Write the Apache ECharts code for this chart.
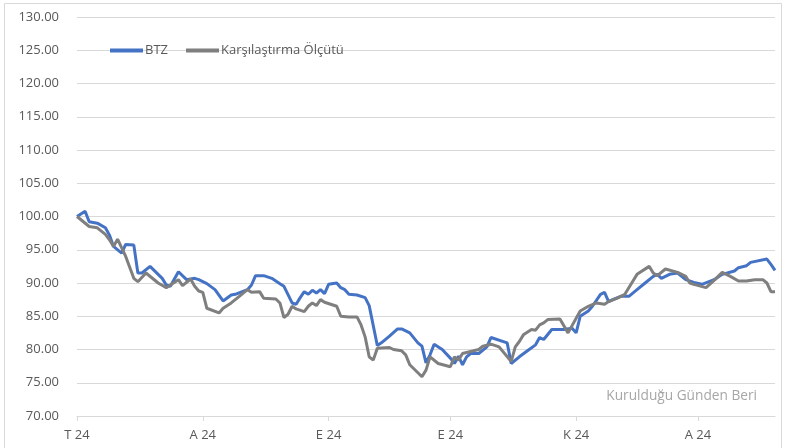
<!DOCTYPE html>
<html>
<head>
<meta charset="utf-8">
<script src="https://cdn.jsdelivr.net/npm/echarts@6/dist/echarts.min.js"></script>
<style>
  html, body { margin: 0; padding: 0; background: #fff; }
  #chart { width: 785px; height: 448px; }
</style>
</head>
<body>
<div id="chart"></div>
<script>
// x values are days counted from 1 July 2024
var btzDays = [0, 2, 3, 5, 7, 8, 9, 11, 12, 14, 15, 16, 18, 21, 22, 23, 25, 27, 29, 30,
  32, 34, 36, 38, 39, 42, 43, 44, 46, 48, 50, 51, 53, 54, 55, 56, 57, 58, 59, 60,
  61, 62, 64, 65, 66, 67, 69, 71, 72, 74, 75, 77, 79, 80, 82, 84, 85, 86, 87, 88,
  90, 92, 93, 94, 95, 96, 97, 99, 101, 102, 106, 107, 109, 111, 113, 114, 115, 117, 120, 122,
  123, 124, 126, 127, 129, 130, 131, 132, 134, 136, 138, 140, 142, 143, 144, 146, 148, 149, 150, 152,
  154, 157, 159, 162, 163, 165, 166, 170, 171, 172];
var btzValues = [100.0, 100.8, 99.2, 99.0, 98.3, 97.2, 95.5, 94.5, 95.8, 95.7, 91.5, 91.5, 92.5, 90.7, 89.7, 89.5, 91.7, 90.5, 90.7, 90.5,
  89.9, 89.0, 87.3, 88.2, 88.3, 89.0, 89.7, 91.1, 91.1, 90.7, 89.9, 89.5, 87.0, 86.8, 87.8, 88.7, 88.3, 88.9, 88.5, 89.0,
  88.4, 89.8, 90.0, 89.3, 89.0, 88.3, 88.2, 87.8, 86.6, 80.6, 81.0, 82.0, 83.1, 83.1, 82.5, 81.0, 80.5, 78.0, 79.2, 80.8,
  80.0, 78.7, 77.9, 79.0, 77.7, 78.9, 79.4, 79.4, 80.4, 81.8, 81.0, 77.9, 78.9, 79.8, 80.7, 81.8, 81.5, 83.0, 83.0, 83.2,
  82.5, 85.0, 85.8, 86.5, 88.3, 88.6, 87.2, 87.5, 88.0, 88.0, 89.0, 90.0, 91.0, 91.3, 90.7, 91.3, 91.5, 91.0, 90.5, 90.1,
  89.8, 90.5, 91.3, 91.8, 92.3, 92.6, 93.1, 93.6, 92.8, 91.9];

var benchDays = [0, 3, 5, 7, 8, 9, 10, 12, 14, 15, 17, 20, 22, 23, 25, 26, 28, 29, 30, 31,
  32, 35, 36, 38, 40, 42, 43, 45, 46, 49, 50, 51, 52, 53, 54, 56, 57, 58, 59, 60,
  61, 64, 65, 67, 69, 70, 71, 72, 73, 74, 77, 78, 80, 81, 82, 85, 86, 87, 89, 92,
  93, 94, 95, 97, 99, 100, 102, 104, 107, 108, 109, 110, 112, 113, 114, 115, 116, 119, 121, 124,
  126, 128, 130, 131, 133, 135, 137, 138, 141, 142, 143, 145, 148, 150, 151, 152, 155, 157, 159, 161,
  163, 165, 167, 169, 170, 171, 172];
var benchValues = [100.0, 98.5, 98.3, 97.3, 96.5, 95.5, 96.6, 94.0, 90.7, 90.2, 91.5, 90.0, 89.3, 89.7, 90.5, 89.6, 90.6, 89.5, 88.8, 88.6,
  86.2, 85.5, 86.2, 87.0, 88.0, 89.0, 88.6, 88.7, 87.7, 87.6, 87.0, 84.8, 85.3, 86.5, 86.1, 85.7, 86.5, 87.0, 86.6, 87.5,
  87.1, 86.5, 85.0, 84.9, 84.9, 83.7, 81.9, 78.9, 78.4, 80.2, 80.3, 80.0, 79.8, 79.2, 77.7, 75.9, 76.9, 78.9, 77.9, 77.4,
  78.9, 78.4, 79.4, 79.7, 80.0, 80.5, 80.8, 80.4, 78.2, 80.4, 81.2, 82.2, 83.0, 82.9, 83.7, 84.0, 84.5, 84.6, 82.5, 85.8,
  86.5, 87.0, 86.8, 87.2, 87.7, 88.3, 90.3, 91.3, 92.5, 91.5, 91.1, 92.1, 91.6, 91.0, 90.0, 89.8, 89.3, 90.4, 91.6, 91.0,
  90.3, 90.3, 90.5, 90.5, 90.0, 88.7, 88.7];

// first day of each month (Jul..Dec 2024) and their labels
var tickDays = [0, 31, 62, 92, 123, 153];
var tickLabels = ['T 24', 'A 24', 'E 24', 'E 24', 'K 24', 'A 24'];
var lastDay = 172;

var seriesNames = ['BTZ', 'Karşılaştırma Ölçütü'];

function toPairs(days, values) {
  return days.map(function (d, i) { return [d, values[i]]; });
}

var textColor = '#595959';
var gridColor = '#d9d9d9';
var font = 'Open Sans';

var chart = echarts.init(document.getElementById('chart'));

var option = {
  animation: false,
  backgroundColor: '#fff',
  grid: { left: 77, right: 10, top: 17, bottom: 32, containLabel: false },
  legend: {
    left: 105,
    top: 39,
    icon: 'rect',
    itemWidth: 33,
    itemHeight: 4,
    itemGap: 18,
    textStyle: { color: textColor, fontSize: 13, fontFamily: font, padding: [0, 0, 0, -3] },
    data: seriesNames
  },
  xAxis: {
    type: 'value',
    min: 0,
    max: lastDay,
    axisLine: { show: true, lineStyle: { color: gridColor, width: 1 } },
    axisTick: { show: true, length: 5, lineStyle: { color: gridColor }, customValues: tickDays },
    axisLabel: {
      customValues: tickDays,
      color: textColor, fontSize: 13, fontFamily: font, margin: 13,
      formatter: function (v) {
        var i = tickDays.indexOf(v);
        return i >= 0 ? tickLabels[i] : '';
      }
    },
    splitLine: { show: false }
  },
  yAxis: {
    type: 'value',
    min: 70,
    max: 130,
    interval: 5,
    axisLine: { show: false },
    axisTick: { show: false },
    axisLabel: {
      color: textColor, fontSize: 13, fontFamily: font, margin: 18,
      formatter: function (v) { return v.toFixed(2); }
    },
    splitLine: { lineStyle: { color: gridColor, width: 1 } }
  },
  graphic: [
    {
      type: 'rect',
      shape: { x: 4.5, y: 3.5, width: 777, height: 460 },
      style: { fill: 'none', stroke: gridColor, lineWidth: 1 },
      silent: true
    },
    {
      type: 'text',
      right: 28,
      top: 389,
      style: { text: 'Kurulduğu Günden Beri', fill: '#a6a6a6', fontSize: 13.7, fontFamily: font }
    }
  ],
  series: [
    {
      name: seriesNames[0],
      type: 'line',
      showSymbol: false,
      symbol: 'none',
      color: '#4472C4',
      lineStyle: { width: 3, color: '#4472C4' },
      data: toPairs(btzDays, btzValues)
    },
    {
      name: seriesNames[1],
      type: 'line',
      showSymbol: false,
      symbol: 'none',
      color: '#7F7F7F',
      lineStyle: { width: 3, color: '#7F7F7F' },
      data: toPairs(benchDays, benchValues)
    }
  ]
};

chart.setOption(option);
</script>
</body>
</html>
